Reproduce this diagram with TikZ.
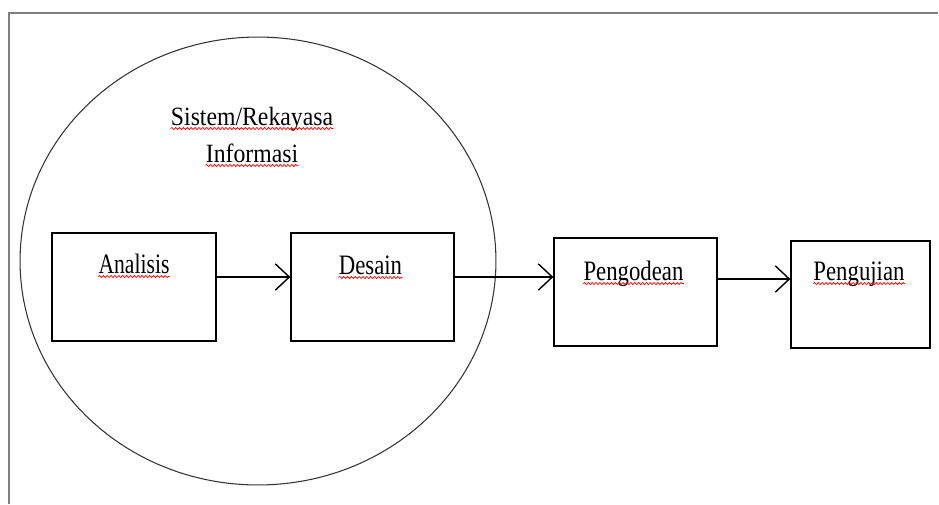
\documentclass[tikz,border=0pt]{standalone}
\usepackage{fontspec}
\setmainfont{Liberation Serif}
\usetikzlibrary{arrows.meta,shapes.geometric,decorations.pathmorphing}

\begin{document}
\begin{tikzpicture}[x=0.02cm, y=-0.02cm,
    box/.style={draw, rectangle, line width=0.75pt, minimum width=#1, minimum height=2.16cm, inner sep=0pt},
    word/.style={inner sep=0pt, anchor=base, font=\fontsize{16}{20}\selectfont, xscale=#1, transform shape},
    word/.default=0.81,
    spell/.style={red, line width=0.4pt, decorate, decoration={snake, amplitude=0.6pt, segment length=2.2pt}},
    flow/.style={-{Straight Barb[length=8pt, width=15pt]}, line width=0.8pt}]
        \useasboundingbox (0,0) rectangle (939,504);

        % Frame
        \draw[gray, line width=0.9pt] (9,504) -- (9,13) -- (938,13);

        % Sistem/Rekayasa Informasi
        \node[draw=black!80, ellipse, line width=0.6pt, minimum width=9.52cm, minimum height=8.96cm, inner sep=0pt] (sysinfo) at (258,261) {};
        \node[word=0.9, font=\fontsize{15}{20}\selectfont] (titleA) at (252,125) {Sistem/Rekayasa};
        \node[word=0.9, font=\fontsize{15}{20}\selectfont] (titleB) at (252,162) {Informasi};

        % Analisis
        \node[box=3.28cm] (ana) at (134,287) {};
        \node[word=0.77] (anaText) at (134,273) {Analisis};

        % Desain
        \node[box=3.26cm] (des) at (372.5,287) {};
        \node[word] (desText) at (370.5,274) {Desain};

        % Pengodean
        \node[box=3.26cm] (pgd) at (635.5,292) {};
        \node[word] (pgdText) at (633.5,280) {Pengodean};

        % Pengujian
        \node[box=2.78cm, minimum height=2.14cm] (pgj) at (860.5,294.5) {};
        \node[word] (pgjText) at (859,280) {Pengujian};

        % Spelling marks
        \draw[spell] ([yshift=-2pt]titleA.base west) -- ([yshift=-2pt]titleA.base east);
        \draw[spell] ([yshift=-2pt]titleB.base west) -- ([yshift=-2pt]titleB.base east);
        \draw[spell] ([yshift=-2pt]anaText.base west) -- ([yshift=-2pt]anaText.base east);
        \draw[spell] ([yshift=-2pt]desText.base west) -- ([yshift=-2pt]desText.base east);
        \draw[spell] ([yshift=-2pt]pgdText.base west) -- ([yshift=-2pt]pgdText.base east);
        \draw[spell] ([yshift=-2pt]pgjText.base west) -- ([yshift=-2pt]pgjText.base east);

        % Arrows
        \coordinate (lineA) at (0,277);
        \coordinate (lineB) at (0,279);
        \draw[flow] (ana.east |- lineA) -- (des.west |- lineA);
        \draw[flow] (des.east |- lineA) -- (pgd.west |- lineA);
        \draw[flow] (pgd.east |- lineB) -- (pgj.west |- lineB);
    \end{tikzpicture}
\end{document}
